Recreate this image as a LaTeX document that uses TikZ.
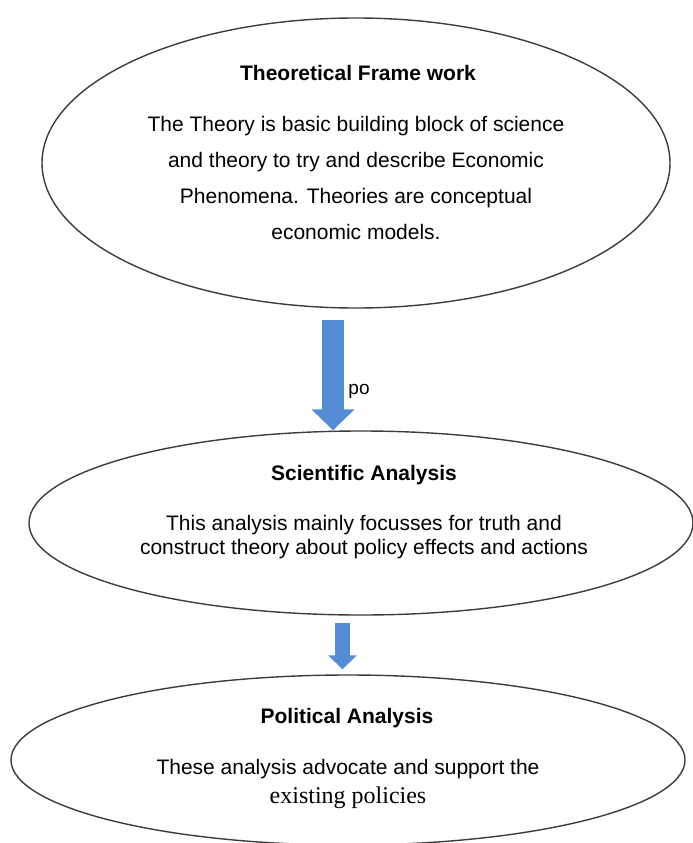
\documentclass[tikz,border=0pt]{standalone}
\usepackage{fontspec}
\setmainfont{Liberation Sans}
\newfontfamily\serifface{Liberation Serif}
\usetikzlibrary{shapes.geometric,arrows.meta,calc}
\definecolor{arrowblue}{RGB}{84,141,212}
\definecolor{rimgray}{RGB}{60,60,60}
\tikzset{
  frame/.style={ellipse,draw=rimgray,line width=1.4pt,inner sep=0pt},
  heading/.style={font=\bfseries\fontsize{21}{24}\selectfont,inner sep=0pt},
  body/.style={align=center,inner sep=0pt},
  pointer/.style={draw=arrowblue,line width=#1,-{Triangle[length=21pt,width=42pt]}}
}
\begin{document}
\begin{tikzpicture}[x=1pt,y=-1pt]
\useasboundingbox (0,0) rectangle (693,843);
\node[frame,minimum width=628pt,minimum height=290pt] (theory) at (356,163) {};
\node[frame,minimum width=664pt,minimum height=184pt] (sci) at (361,523) {};
\node[frame,minimum width=674pt,minimum height=170pt] (policy) at (348,760) {};
\node[heading] (theoryTitle) at (358,73) {Theoretical Frame work};
\node[body,font=\fontsize{21}{36}\selectfont] (theoryText) at (356,178)
  {The Theory is basic building block of science\\
   and theory to try and describe Economic\\
   Phenomena. Theories are conceptual\\
   economic models.};
\node[heading] (sciTitle) at (364,475) {Scientific Analysis};
\node[body,font=\fontsize{21}{24}\selectfont] (sciText) at (364,537)
  {This analysis mainly focusses for truth and\\
   construct theory about policy effects and actions};
\node[heading] (policyTitle) at (347,718) {Political Analysis};
\node[body,font=\fontsize{21}{24}\selectfont] (policyText) at (348,784)
  {These analysis advocate and support the\\[5pt]
   {\serifface\fontsize{24}{24}\selectfont existing policies}};
\coordinate (a1) at (333,320);
\coordinate (a2) at (342.5,623);
\draw[pointer=22pt] (a1) -- (a1 |- sci.north);
\draw[pointer=15pt,-{Triangle[length=14pt,width=28pt]}] (a2) -- ($(a2 |- policy.north)+(0,-5)$);
\node[inner sep=0pt,font=\fontsize{19}{22}\selectfont] (po) at (359,391) {po};
\end{tikzpicture}
\end{document}
